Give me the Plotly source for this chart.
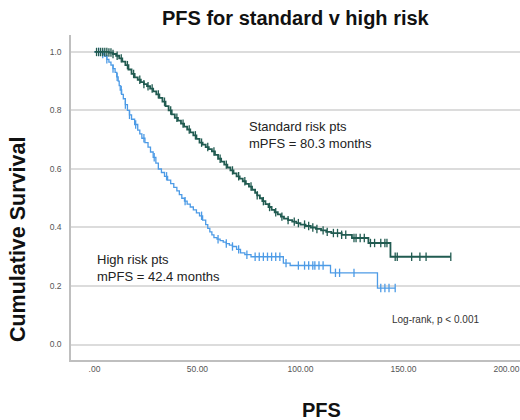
import numpy as np
import plotly.graph_objects as go

# Kaplan-Meier estimates: event times (months) and survival after each step
std_time = [0, 7, 9, 10.5, 12, 13.5, 15, 16.5, 18, 19.5, 21, 22.5, 24, 25.5, 27,
            28.5, 30, 31.5, 33, 34.5, 36, 37.5, 39, 40.5, 42, 43.5, 45, 46.5,
            48, 49.5, 51, 52.5, 54, 55.5, 57, 58.5, 60, 61.5, 63, 64.5, 66,
            67.5, 69, 70.5, 72, 73.5, 75, 76.5, 78, 79, 80.3, 81.5, 83, 84.5,
            86, 87.5, 89, 90.5, 92, 94, 96, 98, 100, 102.5, 105, 107.5, 110,
            112.5, 115, 120, 125, 133, 143.7]
std_surv = [1.0, 0.998, 0.993, 0.987, 0.978, 0.967, 0.955, 0.94, 0.925, 0.913,
            0.905, 0.897, 0.89, 0.883, 0.875, 0.865, 0.855, 0.843, 0.83, 0.815,
            0.80, 0.787, 0.775, 0.765, 0.755, 0.745, 0.735, 0.725, 0.715,
            0.703, 0.69, 0.683, 0.675, 0.668, 0.66, 0.648, 0.635, 0.625, 0.615,
            0.605, 0.595, 0.585, 0.575, 0.567, 0.558, 0.549, 0.54, 0.529,
            0.518, 0.51, 0.50, 0.49, 0.48, 0.47, 0.46, 0.452, 0.445, 0.437,
            0.43, 0.425, 0.42, 0.415, 0.41, 0.405, 0.40, 0.395, 0.39, 0.385,
            0.381, 0.375, 0.364, 0.347, 0.30]
std_last = 173

high_time = [0, 3, 4, 5, 6, 7, 8, 9, 10, 10.8, 11.5, 12, 12.5, 13.2, 14, 15, 16,
             17, 18, 19.5, 21, 22, 23, 24.5, 26, 27.2, 28.5, 29.8, 31, 32.5, 34,
             35.5, 37, 38.5, 40, 41.2, 42.4, 43.7, 45, 46.5, 48, 49.5, 51, 52.5,
             54, 55, 56, 57, 58, 59.5, 61, 62.5, 64, 65.5, 67, 69, 70.9, 73, 76,
             91.7, 95, 114.6, 137.4]
high_surv = [1.0, 0.998, 0.993, 0.985, 0.975, 0.965, 0.955, 0.943, 0.93, 0.915,
             0.90, 0.885, 0.87, 0.855, 0.84, 0.82, 0.80, 0.785, 0.77, 0.752,
             0.733, 0.72, 0.705, 0.69, 0.675, 0.658, 0.64, 0.62, 0.60, 0.588,
             0.575, 0.562, 0.55, 0.537, 0.525, 0.512, 0.50, 0.49, 0.48, 0.47,
             0.46, 0.45, 0.44, 0.425, 0.41, 0.397, 0.385, 0.375, 0.365, 0.36,
             0.355, 0.35, 0.345, 0.34, 0.335, 0.325, 0.313, 0.307, 0.30,
             0.278, 0.27, 0.245, 0.193]
high_last = 146

# Censored observations (months)
std_cens = [1, 2, 3, 4, 5, 6, 7, 8, 9, 11, 13, 16, 19, 22, 24, 26, 28, 31, 34, 37,
            40, 43, 46, 49, 52, 55, 58, 61, 64, 67, 70, 73, 76, 79, 82, 85, 88,
            91, 94, 97, 99, 102, 104, 106, 108, 111, 113, 116, 118, 120, 122,
            126, 127, 129, 131, 134, 136, 139, 141, 142, 146, 147, 154, 158,
            161, 173]
high_cens = [2, 4, 6, 9, 11, 13, 15, 17, 20, 24, 29, 35, 44, 52, 60, 64, 67, 70,
             74, 78, 80, 82, 84, 86, 88, 90, 93, 99, 102, 104, 106, 107, 109,
             111, 117, 119, 126, 139, 141, 143, 146]

x_ticks = [0, 50, 100, 150, 200]
x_tick_text = [".00", "50.00", "100.00", "150.00", "200.00"]
y_ticks = [0.0, 0.2, 0.4, 0.6, 0.8, 1.0]
y_tick_text = ["0.0", "0.2", "0.4", "0.6", "0.8", "1.0"]

STD_COLOR = "#215b51"
HIGH_COLOR = "#4d9be6"


def step_value(times, surv, t):
    idx = np.searchsorted(np.asarray(times), t, side="right") - 1
    return float(np.asarray(surv)[idx])


fig = go.Figure()

for times, surv, last, cens, color, width in [
    (high_time, high_surv, high_last, high_cens, HIGH_COLOR, 1.3),
    (std_time, std_surv, std_last, std_cens, STD_COLOR, 1.8),
]:
    fig.add_trace(go.Scatter(
        x=list(times) + [last], y=list(surv) + [surv[-1]],
        mode="lines", line=dict(color=color, width=width, shape="hv"),
        hoverinfo="skip", showlegend=False))
    fig.add_trace(go.Scatter(
        x=cens, y=[step_value(times, surv, c) for c in cens],
        mode="markers",
        marker=dict(symbol="line-ns-open", size=6, color=color,
                    line=dict(color=color, width=1.3)),
        hoverinfo="skip", showlegend=False))

fig.add_annotation(x=74, y=0.715, xref="x", yref="y", xanchor="left",
                   yanchor="middle", align="left", showarrow=False,
                   text="Standard risk pts<br>mPFS = 80.3 months",
                   font=dict(size=13, color="#222222"))
fig.add_annotation(x=0.2, y=0.26, xref="x", yref="y", xanchor="left",
                   yanchor="middle", align="left", showarrow=False,
                   text="High risk pts<br>mPFS = 42.4 months",
                   font=dict(size=13, color="#222222"))
fig.add_annotation(x=143.4, y=0.084, xref="x", yref="y", xanchor="left",
                   yanchor="middle", showarrow=False,
                   text="Log-rank, p < 0.001",
                   font=dict(size=10, color="#333333"))

# Titles
fig.add_annotation(x=0.501, y=1.052, xref="paper", yref="paper",
                   xanchor="center", yanchor="middle", showarrow=False,
                   text="<b>PFS for standard v high risk</b>",
                   font=dict(size=20, color="#111111"))
fig.add_annotation(x=-0.118, y=0.372, xref="paper", yref="paper",
                   xanchor="center", yanchor="middle", showarrow=False,
                   textangle=-90, text="<b>Cumulative Survival</b>",
                   font=dict(size=21.5, color="#111111"))
fig.add_annotation(x=0.559, y=-0.154, xref="paper", yref="paper",
                   xanchor="center", yanchor="middle", showarrow=False,
                   text="<b>PFS</b>", font=dict(size=20, color="#111111"))

fig.update_layout(
    width=520, height=420,
    margin=dict(l=71, r=0, t=35, b=60),
    paper_bgcolor="white", plot_bgcolor="white",
    font=dict(family="Arial, Liberation Sans, sans-serif"),
    xaxis=dict(range=[-11.4, 206.6], tickvals=x_ticks, ticktext=x_tick_text,
               showgrid=False, zeroline=False, showline=True,
               linecolor="#bfbfbf", linewidth=1.5, ticks="",
               tickfont=dict(size=8.5, color="#555555")),
    yaxis=dict(range=[-0.053, 1.058], tickvals=y_ticks, ticktext=y_tick_text,
               showgrid=True, gridcolor="#dcdcdc", gridwidth=1.5,
               zeroline=False, showline=True, linecolor="#bfbfbf",
               linewidth=1.5, ticks="", ticklabelstandoff=6,
               tickfont=dict(size=8.5, color="#555555")),
)

fig.write_html("out.html")
